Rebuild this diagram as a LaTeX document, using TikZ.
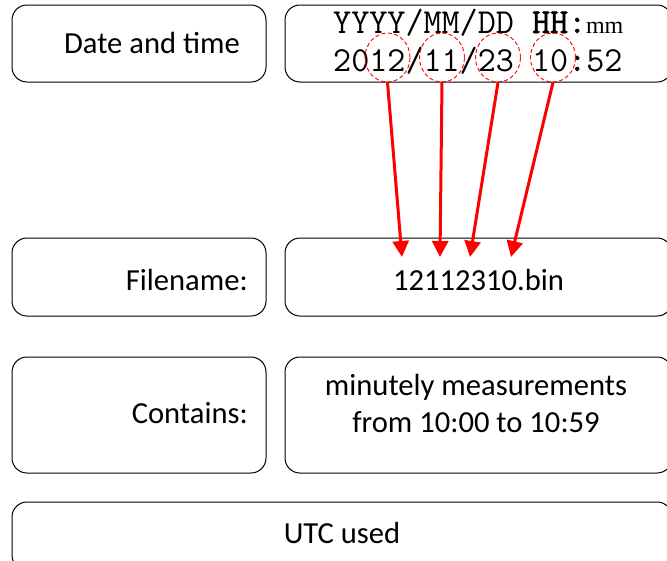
\documentclass[tikz,border=0pt]{standalone}
\usepackage{fontspec}
\setmainfont{Carlito}
\newfontfamily\monofont{Latin Modern Mono}
\newfontfamily\monoheavy[FakeBold=1.6]{Latin Modern Mono}
\newfontfamily\seriffont{Liberation Serif}
\usetikzlibrary{arrows.meta,shapes.geometric}
\begin{document}
\begin{tikzpicture}[x=1pt,y=-1pt,
  panel/.style={draw=black, line width=1pt, rounded corners=15pt, inner sep=0pt},
  caption/.style={font=\fontsize{30.6}{36}\selectfont, inner sep=0pt},
  mono/.style={font=\monofont\fontsize{35.1}{40}\selectfont, inner sep=0pt},
  ring/.style={ellipse, draw=red, dashed, dash pattern=on 4pt off 2.5pt,
    line width=0.9pt, minimum width=45pt, minimum height=49pt, inner sep=0pt},
  pointer/.style={draw=red, line width=3pt,
    -{Triangle[length=16pt,width=16pt]}}]
\useasboundingbox (0,0) rectangle (667,560);
\clip (0,0) rectangle (667,560);

% rounded panels
\node[panel, minimum width=254pt, minimum height=77pt] (datebox) at (139,43.5) {};
\node[panel, minimum width=387pt, minimum height=77pt] (fmtbox) at (478.5,43.5) {};
\node[panel, minimum width=254pt, minimum height=78pt] (namebox) at (139,277) {};
\node[panel, minimum width=387pt, minimum height=78pt] (filebox) at (478.5,277) {};
\node[panel, minimum width=254pt, minimum height=116pt] (contbox) at (139,415) {};
\node[panel, minimum width=387pt, minimum height=116pt] (measbox) at (478.5,415) {};
\node[panel, minimum width=660pt, minimum height=68pt] (utcbox) at (342,536) {};

% labels
\node[caption, anchor=base east] (datelbl) at (240,53) {Date and time};
\node[caption, anchor=base east] (namelbl) at (248,290) {Filename:};
\node[caption, anchor=base east] (contlbl) at (248,423) {Contains:};
\node[caption, anchor=base] (filename) at (478.5,290) {12112310.bin};
\node[caption, anchor=base] (meas1) at (476,395) {minutely measurements};
\node[caption, anchor=base] (meas2) at (476,432) {from 10:00 to 10:59};
\node[caption, anchor=base] (utc) at (342,543) {UTC used};

% date format and example
\node[mono, anchor=base west] (fmt) at (333,33)
  {YYYY/MM/DD {\monoheavy HH:}\makebox[36.9pt]{\seriffont\fontsize{24}{30}\selectfont mm}};
\node[mono, anchor=base west] (stamp) at (333,71) {2012/11/23 10{\monoheavy :}52};

% highlighted fields
\node[ring] (yy) at (387.5,57.5) {};
\node[ring] (mo) at (442,57.5) {};
\node[ring] (dd) at (498,57.5) {};
\node[ring] (hh) at (553,57.5) {};

% arrow targets in the file name
\coordinate (tyy) at (402,257);
\coordinate (tmo) at (440,257);
\coordinate (tdd) at (470,257);
\coordinate (thh) at (511,257);

\draw[pointer] (yy.south) -- (tyy);
\draw[pointer] (mo.south) -- (tmo);
\draw[pointer] (dd.south) -- (tdd);
\draw[pointer] (hh.south) -- (thh);
\end{tikzpicture}
\end{document}
